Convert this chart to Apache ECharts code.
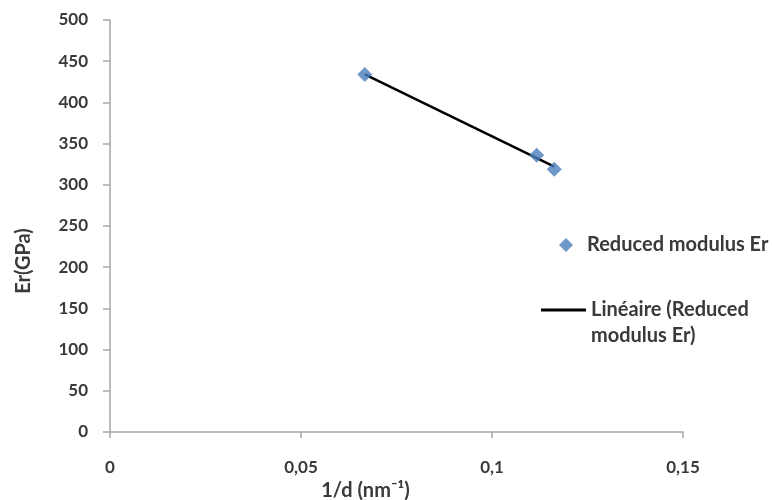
<!DOCTYPE html>
<html>
<head>
<meta charset="utf-8">
<script src="https://cdn.jsdelivr.net/npm/echarts@6/dist/echarts.min.js"></script>
<style>
  html, body { margin: 0; padding: 0; background: #fff; }
  #chart { width: 772px; height: 500px; }
</style>
</head>
<body>
<div id="chart"></div>
<script>
// mesures (1/d en nm-1, Er en GPa)
const invD = [0.0667, 0.1117, 0.1163];
const modulus = [434, 336, 319];
// droite de tendance
const trendX = [0.0667, 0.1163];
const trendY = [434, 322];

const pointsData = invD.map((x, i) => [x, modulus[i]]);
const trendData = trendX.map((x, i) => [x, trendY[i]]);

const font = 'Lato';
const txt = '#3a3a3a';
const axisGrey = '#a6a6a6';

const myChart = echarts.init(document.getElementById('chart'));
myChart.setOption({
  animation: false,
  textStyle: { fontFamily: font },
  grid: { left: 110, right: 89, top: 20, bottom: 68, outerBoundsMode: 'none' },
  legend: [
    {
      data: [{ name: 'Reduced modulus Er', icon: 'diamond' }],
      left: 554,
      top: 230,
      itemWidth: 14,
      itemHeight: 14,
      textStyle: { fontFamily: font, fontWeight: 'bold', fontSize: 20, color: txt, padding: [0, 0, 0, 9] }
    },
    {
      data: [{ name: 'Linéaire (Reduced modulus Er)', icon: 'rect' }],
      left: 536,
      top: 266,
      itemWidth: 45,
      itemHeight: 3,
      // ligne vide en tête pour aligner la première ligne sur le trait
      formatter: () => '\nLinéaire (Reduced\nmodulus Er)',
      textStyle: { fontFamily: font, fontWeight: 'bold', fontSize: 20, color: txt, lineHeight: 26 }
    }
  ],
  xAxis: {
    type: 'value',
    min: 0,
    max: 0.15,
    interval: 0.05,
    name: '1/d (nm⁻¹)',
    nameLocation: 'middle',
    nameGap: 47,
    nameTextStyle: { fontFamily: font, fontWeight: 'bold', fontSize: 20, color: txt, padding: [0, 62, 0, 0] },
    splitLine: { show: false },
    axisLine: { lineStyle: { color: axisGrey, width: 1.5 } },
    axisTick: { length: 6, lineStyle: { color: axisGrey, width: 1.5 } },
    axisLabel: {
      margin: 27,
      fontFamily: font, fontWeight: 'bold', fontSize: 17, color: txt,
      formatter: v => String(+v.toFixed(2)).replace('.', ',')
    }
  },
  yAxis: {
    type: 'value',
    min: 0,
    max: 500,
    interval: 50,
    name: 'Er(GPa)',
    nameLocation: 'middle',
    nameGap: 76,
    nameTextStyle: { fontFamily: font, fontWeight: 'bold', fontSize: 20, color: txt, padding: [0, 70, 0, 0] },
    splitLine: { show: false },
    axisLine: { show: true, lineStyle: { color: axisGrey, width: 1.5 } },
    axisTick: { show: true, length: 7, lineStyle: { color: axisGrey, width: 1.5 } },
    axisLabel: { margin: 22, fontFamily: font, fontWeight: 'bold', fontSize: 17, color: txt }
  },
  series: [
    {
      name: 'Linéaire (Reduced modulus Er)',
      type: 'line',
      data: trendData,
      symbol: 'none',
      lineStyle: { color: '#000', width: 2.5 },
      itemStyle: { color: '#000' },
      z: 2
    },
    {
      name: 'Reduced modulus Er',
      type: 'scatter',
      data: pointsData,
      symbol: 'diamond',
      symbolSize: 15,
      itemStyle: { color: '#4a7ebb' },
      z: 3
    }
  ]
});
</script>
</body>
</html>
